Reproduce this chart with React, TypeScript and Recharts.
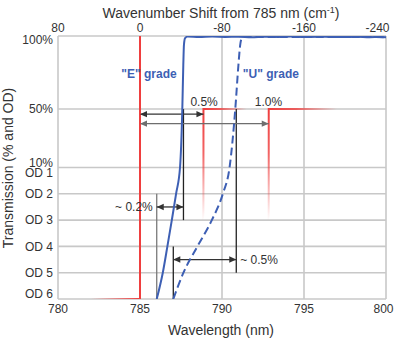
import { LineChart, Line, XAxis, YAxis, CartesianGrid, ReferenceDot } from "recharts"

document.body.style.margin = "0"

// wavelength axis (nm) and the matching wavenumber shift labels on top
const xTicks = [780, 785, 790, 795, 800]
const topTickLabels = ["80", "0", "-80", "-160", "-240"]

// transmission in %, OD n = 100 * 10^-n %
const yTickTrans = [100, 50, 10, 1, 0.1, 0.01, 0.001, 0.0001]
const yTickLabels = ["100%", "50%", "10%\nOD 1", "OD 2", "OD 3", "OD 4", "OD 5", "OD 6"]
const yTickNudge = [4, 0, 0, 0, 0, 0, 0, -5]

// "E" grade edge
const eWave = [786.02, 786.39, 786.67, 786.94, 787.2, 787.44, 787.58, 787.64, 787.68, 787.75, 787.9, 788.6, 789.4, 790.2, 791.0, 791.8, 792.6, 793.4, 794.2, 795.0, 795.8, 796.6, 797.4, 798.2, 799.0, 799.6, 800]
const eTrans = [0.0001, 0.001, 0.01, 0.1, 1, 10, 50, 80, 94, 98.5, 99.6, 99.3, 99.6, 99.4, 99.5, 99.2, 99.5, 99.4, 99.6, 99.3, 99.5, 99.4, 99.3, 99.5, 99.2, 99.3, 99.1]

// "U" grade edge
const uWave = [787.03, 787.65, 788.5, 789.38, 790.05, 790.46, 790.81, 791.0, 791.1, 791.2, 791.4, 792.2, 793.4, 795.0, 796.6, 798.2, 800]
const uTrans = [0.0001, 0.001, 0.01, 0.1, 1, 10, 50, 80, 93, 98.5, 99.4, 99.4, 99.4, 99.3, 99.4, 99.4, 99.1]

// laser line and the 0.5% / 1.0% markers
const laserWave = [780, 785, 785]
const laserTrans = [0.0001, 0.0001, 100]
const step05Wave = [788.87, 788.87, 791.5]
const step05Trans = [0.1, 50, 50]
const step10Wave = [792.85, 792.85, 797]
const step10Trans = [0.1, 50, 50]

// vertical guide lines [wavelength, from %, to %, colour]
const guides: [number, number, number, string][] = [
  [786.02, 1, 0.0001, "#7a7a7a"],
  [787.65, 50, 0.1, "#222"],
  [787.03, 0.01, 0.0001, "#222"],
  [790.87, 50, 0.001, "#222"],
]

// double arrows [from nm, to nm, at %, colour]
const arrows: [number, number, number, string][] = [
  [785, 788.87, 46.5, "#333"],
  [785, 792.85, 40, "#6e6e6e"],
  [786.02, 787.65, 0.316, "#333"],
  [787.03, 790.87, 0.00316, "#333"],
]

// text notes [text, nm, %, bold]
const notes: [string, number, number, boolean][] = [
  ['"E" grade', 785.55, 74.4, true],
  ['"U" grade', 792.98, 74.4, true],
  ["0.5%", 788.91, 55, false],
  ["1.0%", 792.83, 55, false],
  ["~ 0.2%", 784.63, 0.316, false],
  ["~ 0.5%", 792.26, 0.00316, false],
]

const BLUE = "#3d5fb4"
const RED = "#ef3e3e"
const TEXT = "#333"
const FONT = '"Liberation Sans", Arial, Helvetica, sans-serif'

// linear in % above 10%, one step per OD below
const toU = (t: number) => (t >= 10 ? 5 + ((t - 10) / 90) * 5 : 6 + Math.log10(t / 100))
const pts = (xs: number[], ts: number[]) => xs.map((x, i) => ({ x, y: toU(ts[i]) }))

const yTicks = yTickTrans.map(toU)

const YTick = (props: any) => {
  const { x, y, payload } = props
  const i = yTicks.findIndex((v) => Math.abs(v - payload.value) < 1e-6)
  if (i < 0) return null
  const lines = yTickLabels[i].split("\n")
  if (lines.length > 1) {
    return (
      <text x={x} y={y} textAnchor="end" fontSize={12} fill={TEXT}>
        <tspan x={x} dy={-0.5}>{lines[0]}</tspan>
        <tspan x={x} dy={10}>{lines[1]}</tspan>
      </text>
    )
  }
  return (
    <text x={x} y={y + 4.3 + yTickNudge[i]} textAnchor="end" fontSize={12} fill={TEXT}>
      {lines[0]}
    </text>
  )
}

const TopTick = (props: any) => {
  const { x, y, index } = props
  const last = index === topTickLabels.length - 1
  return (
    <text x={last ? x + 3.5 : x} y={y} textAnchor={last ? "end" : "middle"} fontSize={12} fill={TEXT}>
      {topTickLabels[index]}
    </text>
  )
}

const BottomTick = (props: any) => {
  const { x, y, index, payload } = props
  const last = index === xTicks.length - 1
  return (
    <text x={last ? x + 7.5 : x} y={y + 8.5} textAnchor={last ? "end" : "middle"} fontSize={12} fill={TEXT}>
      {payload.value}
    </text>
  )
}

const arrowDot = (color: string) => (props: any) => {
  const { cx, cy, index } = props
  const d = index === 0 ? -1 : 1
  return (
    <polygon
      key={index}
      points={`${cx},${cy} ${cx - d * 7},${cy - 3.2} ${cx - d * 7},${cy + 3.2}`}
      fill={color}
    />
  )
}

export default function App() {
  return (
    <div style={{ position: "relative", width: 394, height: 338, fontFamily: FONT, background: "#fff" }}>
      <LineChart width={394} height={338} margin={{ top: 0, right: 8, bottom: 0, left: 0 }}>
        <defs>
          <linearGradient id="laserFade" x1="0" y1="0" x2="1" y2="0">
            <stop offset="0" stopColor={RED} stopOpacity={0} />
            <stop offset="0.4" stopColor={RED} stopOpacity={0} />
            <stop offset="1" stopColor={RED} stopOpacity={1} />
          </linearGradient>
          <linearGradient id="stepFade" x1="0" y1="0" x2="1" y2="1">
            <stop offset="0" stopColor={RED} stopOpacity={1} />
            <stop offset="0.2" stopColor={RED} stopOpacity={0.8} />
            <stop offset="0.5" stopColor={RED} stopOpacity={0} />
          </linearGradient>
        </defs>
        <CartesianGrid xAxisId="bottom" stroke="#c8c8c8" strokeWidth={1.6} />
        <XAxis
          xAxisId="bottom"
          type="number"
          dataKey="x"
          domain={[780, 800]}
          ticks={xTicks}
          interval={0}
          height={39}
          axisLine={false}
          tickLine={false}
          tickSize={3}
          tickMargin={2}
          tick={<BottomTick />}
          allowDataOverflow
        />
        <XAxis
          xAxisId="top"
          orientation="top"
          type="number"
          dataKey="x"
          domain={[780, 800]}
          ticks={xTicks}
          interval={0}
          height={36}
          axisLine={false}
          tickLine={false}
          tickSize={4}
          tickMargin={0}
          tick={<TopTick />}
          allowDataOverflow
        />
        <YAxis
          type="number"
          domain={[0, 10]}
          ticks={yTicks}
          interval={0}
          width={58}
          axisLine={false}
          tickLine={false}
          tickSize={3}
          tickMargin={2}
          tick={<YTick />}
          allowDataOverflow
        />

        <Line xAxisId="bottom" data={pts(step05Wave, step05Trans)} dataKey="y" type="linear" stroke="url(#stepFade)" strokeWidth={2} dot={false} isAnimationActive={false} />
        <Line xAxisId="bottom" data={pts(step10Wave, step10Trans)} dataKey="y" type="linear" stroke="url(#stepFade)" strokeWidth={2} dot={false} isAnimationActive={false} />

        {guides.map(([w, a, b, c], i) => (
          <Line key={"g" + i} xAxisId="bottom" data={pts([w, w], [a, b])} dataKey="y" type="linear" stroke={c} strokeWidth={1.3} dot={false} isAnimationActive={false} />
        ))}
        {arrows.map(([a, b, t, c], i) => (
          <Line key={"a" + i} xAxisId="bottom" data={pts([a, b], [t, t])} dataKey="y" type="linear" stroke={c} strokeWidth={1.3} dot={arrowDot(c)} isAnimationActive={false} />
        ))}

        <Line xAxisId="bottom" data={pts(laserWave, laserTrans)} dataKey="y" type="linear" stroke="url(#laserFade)" strokeWidth={2} dot={false} isAnimationActive={false} />
        <Line xAxisId="bottom" data={pts(uWave, uTrans)} dataKey="y" type="monotone" stroke={BLUE} strokeWidth={2} strokeDasharray="8 4" dot={false} isAnimationActive={false} />
        <Line xAxisId="bottom" data={pts(eWave, eTrans)} dataKey="y" type="monotone" stroke={BLUE} strokeWidth={2} dot={false} isAnimationActive={false} />

        {notes.map(([txt, w, t, bold], i) => (
          <ReferenceDot
            key={"n" + i}
            xAxisId="bottom"
            x={w}
            y={toU(t)}
            r={0}
            fill="none"
            stroke="none"
            label={{
              value: txt,
              position: "center",
              fontSize: 12,
              fontWeight: bold ? 700 : 400,
              fill: bold ? BLUE : TEXT,
            }}
          />
        ))}
      </LineChart>

      <svg width={394} height={338} style={{ position: "absolute", left: 0, top: 0, pointerEvents: "none" }}>
        <text x={221} y={18} textAnchor="middle" fontSize={14} fill={TEXT}>
          Wavenumber Shift from 785 nm (cm
          <tspan dy={-5} fontSize={9}>-1</tspan>
          <tspan dy={5}>)</tspan>
        </text>
        <text x={221} y={335} textAnchor="middle" fontSize={14} fill={TEXT}>
          Wavelength (nm)
        </text>
        <text x={0} y={0} transform="translate(13,168) rotate(-90)" textAnchor="middle" fontSize={14} fill={TEXT}>
          Transmission (% and OD)
        </text>
      </svg>
    </div>
  )
}
